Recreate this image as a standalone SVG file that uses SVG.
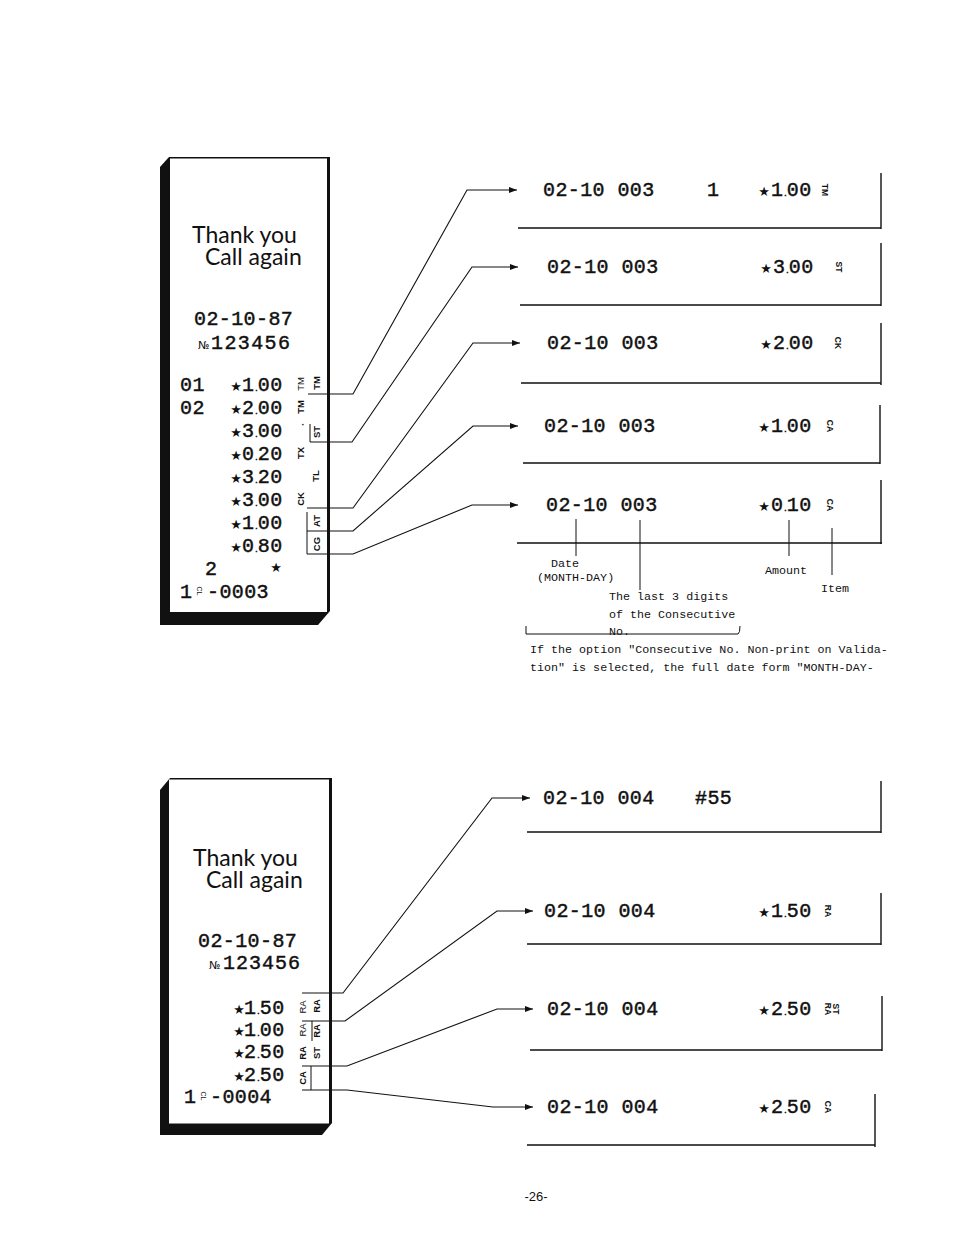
<svg xmlns="http://www.w3.org/2000/svg" width="954" height="1235" viewBox="0 0 954 1235">
<defs>
<marker id="ah" markerWidth="8" markerHeight="6" refX="8" refY="3" orient="auto" markerUnits="userSpaceOnUse"><path d="M0,0 L8,3 L0,6 Z" fill="#111"/></marker>
<style>
.d{font-family:"Liberation Mono",monospace;font-size:20px;letter-spacing:0.4px;fill:#111;stroke:#111;stroke-width:0.45}
.a{letter-spacing:0}
.p{font-size:8px;letter-spacing:-1px}
.q{letter-spacing:0.4px}
.st{font-family:"DejaVu Sans",sans-serif;font-size:13px;fill:#111;text-anchor:middle}
.g{font-family:Lato,"DejaVu Sans",sans-serif;font-size:23px;fill:#111}
.lb{font-family:"Liberation Sans",Arial,sans-serif;font-size:9.5px;font-weight:bold;fill:#111;text-anchor:middle}
.ls{font-family:"Liberation Sans",Arial,sans-serif;font-size:8.5px;font-weight:bold;fill:#111;text-anchor:middle}
.m{font-family:"Liberation Mono",monospace;font-size:11.7px;fill:#111}
.no{font-family:"DejaVu Sans",sans-serif;font-size:11px;fill:#111}
.ln{stroke:#111;stroke-width:1.4;fill:none}
.tk{stroke:#111;stroke-width:1;fill:none}
.cn{stroke:#111;stroke-width:1.1;fill:none;marker-end:url(#ah)}
</style>
</defs>
<rect width="954" height="1235" fill="#fff"/>

<g id="receipt-1">
<path d="M160,167 L169,157 L330,157 L330,611 L318,625 L160,625 Z" fill="#111"/>
<rect x="170" y="158.5" width="157" height="453.5" fill="#fff"/>
<text class="g" x="192" y="243">Thank you</text>
<text class="g" x="205" y="265">Call again</text>
<text class="d" x="194" y="325">02-10-87</text>
<text class="no" x="198" y="349">№</text>
<text class="d" x="211" y="349" style="letter-spacing:1.4px">123456</text>
<text class="d" x="180" y="391">01</text>
<text class="st" x="236" y="391">★</text>
<text class="d a" x="242" y="391">1<tspan class="p">.</tspan><tspan class="q">00</tspan></text>
<text class="d" x="180" y="414">02</text>
<text class="st" x="236" y="414">★</text>
<text class="d a" x="242" y="414">2<tspan class="p">.</tspan><tspan class="q">00</tspan></text>
<text class="st" x="236" y="437">★</text>
<text class="d a" x="242" y="437">3<tspan class="p">.</tspan><tspan class="q">00</tspan></text>
<text class="st" x="236" y="460">★</text>
<text class="d a" x="242" y="460">0<tspan class="p">.</tspan><tspan class="q">20</tspan></text>
<text class="st" x="236" y="483">★</text>
<text class="d a" x="242" y="483">3<tspan class="p">.</tspan><tspan class="q">20</tspan></text>
<text class="st" x="236" y="506">★</text>
<text class="d a" x="242" y="506">3<tspan class="p">.</tspan><tspan class="q">00</tspan></text>
<text class="st" x="236" y="529">★</text>
<text class="d a" x="242" y="529">1<tspan class="p">.</tspan><tspan class="q">00</tspan></text>
<text class="st" x="236" y="552">★</text>
<text class="d a" x="242" y="552">0<tspan class="p">.</tspan><tspan class="q">80</tspan></text>
<text class="d" x="205" y="575">2</text>
<text class="st" x="276" y="572">★</text>
<text class="d" x="180" y="598">1</text>
<text class="ls" transform="translate(197,591) rotate(90)" style="font-size:7px;font-weight:normal">CL</text>
<text class="d" x="207" y="598">-0003</text>
<text class="lb" transform="translate(303.5,384) rotate(-90)" style="font-weight:normal">TM</text>
<text class="lb" transform="translate(303.5,407) rotate(-90)">TM</text>
<text class="lb" x="303" y="428">·</text>
<text class="lb" transform="translate(303.5,453) rotate(-90)">TX</text>
<text class="lb" transform="translate(303.5,499) rotate(-90)">CK</text>
<text class="lb" transform="translate(319.5,383) rotate(-90)">TM</text>
<text class="lb" transform="translate(319.5,432) rotate(-90)">ST</text>
<text class="lb" transform="translate(318.5,476) rotate(-90)">TL</text>
<text class="lb" transform="translate(319.5,521) rotate(-90)">AT</text>
<text class="lb" transform="translate(319.5,544) rotate(-90)">CG</text>
<path class="tk" d="M310,424 V442 M307,512 V554"/>
</g>

<g id="slip-1">
<text class="d" x="543" y="196">02-10 003</text>
<text class="d" x="707" y="196">1</text>
<text class="st" x="764" y="196">★</text>
<text class="d a" x="771" y="196">1<tspan class="p">.</tspan><tspan class="q">00</tspan></text>
<text class="ls" transform="translate(822,190) rotate(90)">TM</text>
<path class="ln" d="M518,228 H881 M881,173 V229"/>
</g>
<g id="slip-2">
<text class="d" x="547" y="273">02-10 003</text>
<text class="st" x="766" y="273">★</text>
<text class="d a" x="773" y="273">3<tspan class="p">.</tspan><tspan class="q">00</tspan></text>
<text class="ls" transform="translate(836,267) rotate(90)">ST</text>
<path class="ln" d="M520,305 H881 M881,243 V306"/>
</g>
<g id="slip-3">
<text class="d" x="547" y="349">02-10 003</text>
<text class="st" x="766" y="349">★</text>
<text class="d a" x="773" y="349">2<tspan class="p">.</tspan><tspan class="q">00</tspan></text>
<text class="ls" transform="translate(835,343) rotate(90)">CK</text>
<path class="ln" d="M521,383 H881 M881,323 V385"/>
</g>
<g id="slip-4">
<text class="d" x="544" y="432">02-10 003</text>
<text class="st" x="764" y="432">★</text>
<text class="d a" x="771" y="432">1<tspan class="p">.</tspan><tspan class="q">00</tspan></text>
<text class="ls" transform="translate(827,426) rotate(90)">CA</text>
<path class="ln" d="M523,463 H880 M880,405 V464"/>
</g>
<g id="slip-5">
<text class="d" x="546" y="511">02-10 003</text>
<text class="st" x="764" y="511">★</text>
<text class="d a" x="771" y="511">0<tspan class="p">.</tspan><tspan class="q">10</tspan></text>
<text class="ls" transform="translate(827,505) rotate(90)">CA</text>
<path class="ln" d="M517,543 H882 M881,480 V544"/>
</g>

<g id="annotations">
<path class="tk" d="M576,519 V556 M640,520 V590 M789,520 V556 M832,528 V575"/>
<path class="tk" d="M526,626 V634 H738 Q740,633 740,626"/>
<text class="m" x="551" y="567">Date</text>
<text class="m" x="537" y="581">(MONTH-DAY)</text>
<text class="m" x="765" y="574">Amount</text>
<text class="m" x="821" y="592">Item</text>
<text class="m" x="609" y="600">The last 3 digits</text>
<text class="m" x="609" y="618">of the Consecutive</text>
<text class="m" x="609" y="635">No.</text>
<text class="m" x="530" y="653">If the option "Consecutive No. Non-print on Valida-</text>
<text class="m" x="530" y="671">tion" is selected, the full date form "MONTH-DAY-</text>
</g>

<g id="receipt-2">
<path d="M160,790 L170,778 L332,778 L332,1123 L322,1135 L160,1135 Z" fill="#111"/>
<rect x="169" y="779.5" width="160" height="344" fill="#fff"/>
<text class="g" x="193" y="866">Thank you</text>
<text class="g" x="206" y="888">Call again</text>
<text class="d" x="198" y="947">02-10-87</text>
<text class="no" x="209" y="969">№</text>
<text class="d" x="223" y="969" style="letter-spacing:1px">123456</text>
<text class="st" x="239" y="1014">★</text>
<text class="d a" x="244" y="1014">1<tspan class="p">.</tspan><tspan class="q">50</tspan></text>
<text class="st" x="239" y="1036">★</text>
<text class="d a" x="244" y="1036">1<tspan class="p">.</tspan><tspan class="q">00</tspan></text>
<text class="st" x="239" y="1058">★</text>
<text class="d a" x="244" y="1058">2<tspan class="p">.</tspan><tspan class="q">50</tspan></text>
<text class="st" x="239" y="1081">★</text>
<text class="d a" x="244" y="1081">2<tspan class="p">.</tspan><tspan class="q">50</tspan></text>
<text class="d" x="184" y="1103">1</text>
<text class="ls" transform="translate(201,1096) rotate(90)" style="font-size:7px;font-weight:normal">CL</text>
<text class="d" x="210" y="1103">-0004</text>
<text class="lb" transform="translate(305.5,1007) rotate(-90)" style="font-weight:normal">RA</text>
<text class="lb" transform="translate(305.5,1030) rotate(-90)" style="font-weight:normal">RA</text>
<text class="lb" transform="translate(305.5,1053) rotate(-90)">RA</text>
<text class="lb" transform="translate(305.5,1078) rotate(-90)">CA</text>
<text class="lb" transform="translate(319.5,1006) rotate(-90)">RA</text>
<text class="lb" transform="translate(319.5,1031) rotate(-90)">RA</text>
<text class="lb" transform="translate(319.5,1053) rotate(-90)">ST</text>
<path class="tk" d="M312,1021 V1041 M311,1066 V1090"/>
</g>

<g id="slip-6">
<text class="d" x="543" y="804">02-10 004</text>
<text class="d" x="695" y="804">#55</text>
<path class="ln" d="M527,832 H881 M881,781 V833"/>
</g>
<g id="slip-7">
<text class="d" x="544" y="917">02-10 004</text>
<text class="st" x="764" y="917">★</text>
<text class="d a" x="771" y="917">1<tspan class="p">.</tspan><tspan class="q">50</tspan></text>
<text class="ls" transform="translate(825,911) rotate(90)">RA</text>
<path class="ln" d="M527,944 H881 M881,893 V945"/>
</g>
<g id="slip-8">
<text class="d" x="547" y="1015">02-10 004</text>
<text class="st" x="764" y="1015">★</text>
<text class="d a" x="771" y="1015">2<tspan class="p">.</tspan><tspan class="q">50</tspan></text>
<text class="ls" transform="translate(825,1009) rotate(90)">RA</text>
<text class="ls" transform="translate(833,1009) rotate(90)">ST</text>
<path class="ln" d="M530,1050 H882 M882,996 V1051"/>
</g>
<g id="slip-9">
<text class="d" x="547" y="1113">02-10 004</text>
<text class="st" x="764" y="1113">★</text>
<text class="d a" x="771" y="1113">2<tspan class="p">.</tspan><tspan class="q">50</tspan></text>
<text class="ls" transform="translate(825,1107) rotate(90)">CA</text>
<path class="ln" d="M527,1145 H875 M875,1094 V1147"/>
</g>

<g id="connectors">
<path class="cn" d="M308,394 H353 L467,190 H517"/>
<path class="cn" d="M310,442 H352 L472,267 H518"/>
<path class="cn" d="M307,508 H353 L473,343 H520"/>
<path class="cn" d="M307,531 H353 L473,426 H518"/>
<path class="cn" d="M307,554 H353 L472,505 H518"/>
<path class="cn" d="M302,993 H343 L492,798 H530"/>
<path class="cn" d="M302,1021 H345 L497,911 H533"/>
<path class="cn" d="M302,1066 H347 L497,1009 H533"/>
<path class="cn" d="M302,1090 H347 L493,1107 H533"/>
</g>

<text x="536" y="1201" text-anchor="middle" style="font-family:'Liberation Sans',Arial,sans-serif;font-size:13px;fill:#111">-26-</text>
</svg>
